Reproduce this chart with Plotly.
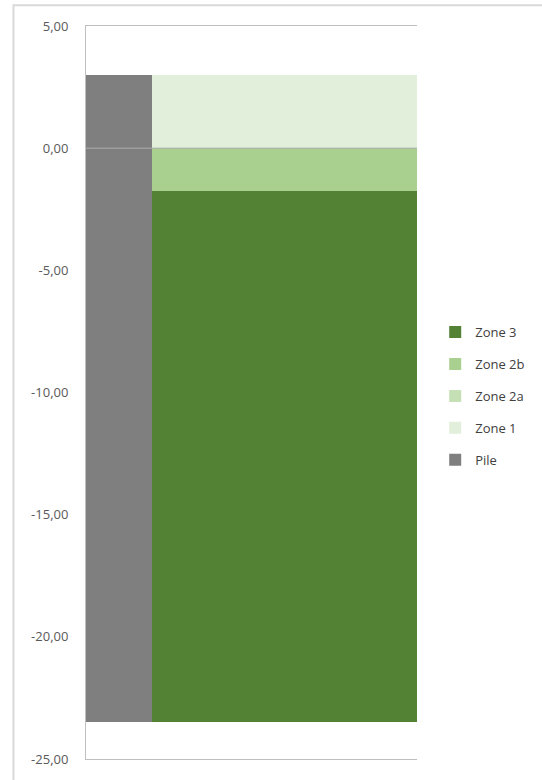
import plotly.graph_objects as go

# Column slots: the pile occupies the first slot, the soil zones the next four
pile_slots = [1]
zone_slots = [2, 3, 4, 5]

# Pile extent (m)
pile_top = [3.0]
pile_bottom = [-23.5]

# Soil zone thicknesses, stacked from 0 (positive = above, negative = below)
zone_1 = [3.0, 3.0, 3.0, 3.0]
zone_2a = [0.0, 0.0, 0.0, 0.0]
zone_2b = [-1.75, -1.75, -1.75, -1.75]
zone_3 = [-21.75, -21.75, -21.75, -21.75]

y_ticks = [5, 0, -5, -10, -15, -20, -25]
y_tick_labels = [f"{v:.2f}".replace(".", ",") for v in y_ticks]

colors = {
    "Pile": "#7F7F7F",
    "Zone 1": "#E2EFDA",
    "Zone 2a": "#C5E0B4",
    "Zone 2b": "#A9D08E",
    "Zone 3": "#548235",
}

fig = go.Figure()

fig.add_trace(go.Bar(
    name="Pile", legendgroup="Pile", legendrank=5,
    x=pile_slots,
    y=[t - b for t, b in zip(pile_top, pile_bottom)],
    base=pile_bottom,
    marker=dict(color=colors["Pile"], line=dict(width=0)),
))

for rank, (name, vals) in zip([4, 3, 2, 1],
                              [("Zone 1", zone_1), ("Zone 2a", zone_2a),
                               ("Zone 2b", zone_2b), ("Zone 3", zone_3)]):
    fig.add_trace(go.Bar(
        name=name, legendgroup=name, legendrank=rank,
        x=zone_slots, y=vals,
        marker=dict(color=colors[name], line=dict(width=0)),
    ))

axis_grey = "#BFBFBF"

# Horizontal category axis crossing at zero, drawn in front of the columns
fig.add_shape(type="line", xref="x domain", yref="y",
              x0=0, x1=1, y0=0, y1=0,
              line=dict(color="#ADADAD", width=1), layer="above")

# Chart-area border
fig.add_shape(type="rect", xref="paper", yref="paper",
              x0=-0.219, x1=1.40, y0=-0.04, y1=1.0284,
              line=dict(color="#D9D9D9", width=2), layer="below")

fig.update_layout(
    width=542, height=780,
    margin=dict(l=86, r=123, t=26, b=14),
    barmode="relative",
    bargap=0,
    paper_bgcolor="white",
    plot_bgcolor="white",
    font=dict(family="Open Sans", size=13, color="#595959"),
    xaxis=dict(
        range=[0.5, 5.5],
        showticklabels=False, ticks="", showgrid=False, zeroline=False,
        showline=True, mirror=True, linecolor=axis_grey, linewidth=1,
    ),
    yaxis=dict(
        range=[-25, 5],
        tickvals=y_ticks, ticktext=y_tick_labels,
        ticks="", ticklabelstandoff=14,
        showgrid=False, zeroline=False,
        showline=True, linecolor=axis_grey, linewidth=1,
    ),
    legend=dict(
        x=1.055, xanchor="left", y=0.495, yanchor="middle",
        traceorder="grouped", tracegroupgap=12,
        font=dict(family="Open Sans", size=13, color="#404040"),
        bgcolor="rgba(0,0,0,0)",
    ),
)

fig.write_html("out.html")
